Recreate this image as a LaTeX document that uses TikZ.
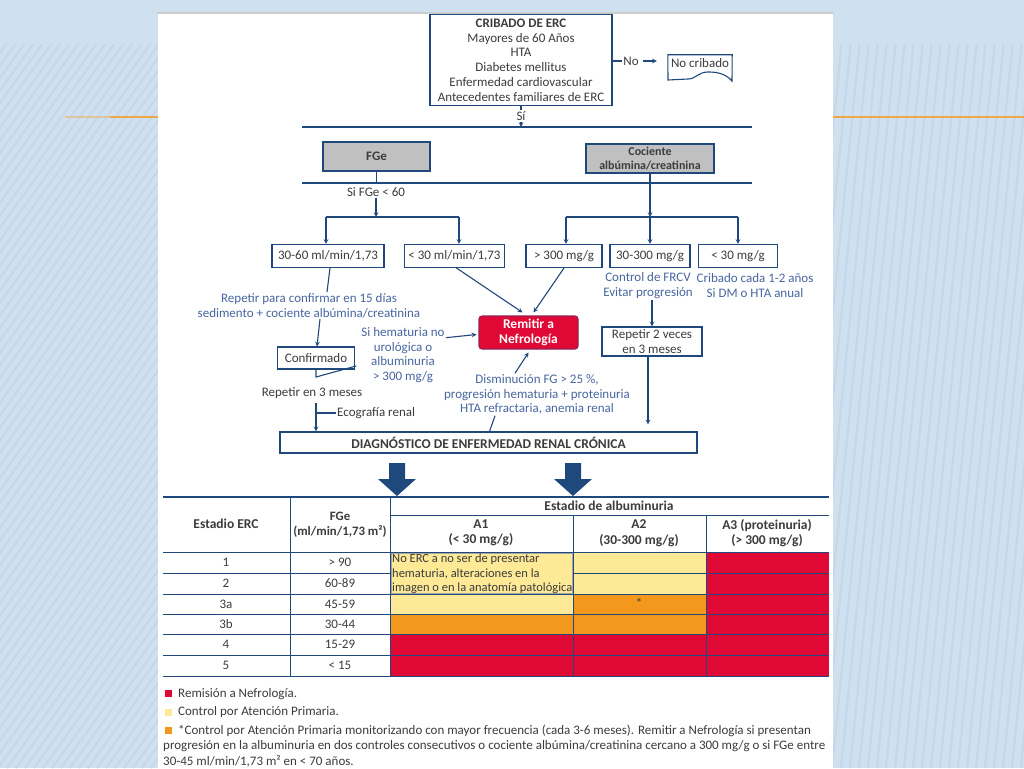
\documentclass[tikz,border=0pt]{standalone}
\usepackage{fontspec}
\setmainfont{Carlito}

\definecolor{navy}{RGB}{31,73,125}
\definecolor{txtblue}{RGB}{72,102,160}
\definecolor{txtdark}{RGB}{60,60,60}
\definecolor{boxgray}{RGB}{192,192,192}
\definecolor{remred}{RGB}{224,8,52}
\definecolor{cyel}{RGB}{253,233,150}
\definecolor{corange}{RGB}{243,152,28}
\definecolor{slide}{RGB}{207,225,240}
\definecolor{stripe}{RGB}{197,215,233}
\definecolor{accent}{RGB}{238,168,70}

\tikzstyle{bx}=[shape=rectangle,
                draw=navy,
                line width=1.1pt,
                fill=white,
                text=txtdark,
                align=center,
                inner sep=1pt]
\tikzstyle{hd}=[bx,
                fill=boxgray,
                font=\bfseries\fontsize{12}{13.5}\selectfont]
\tikzstyle{rem}=[shape=rectangle,
                rounded corners=3pt,
                draw=navy!40!remred,
                line width=1.1pt,
                fill=remred,
                text=white,
                align=center,
                font=\bfseries\fontsize{13.5}{14.5}\selectfont]
\tikzstyle{note}=[text=txtblue, align=center, inner sep=1pt]
\tikzstyle{plain}=[text=txtdark, align=center, inner sep=1pt]
\tikzstyle{ln}=[draw=navy, line width=1.1pt]
\tikzstyle{grid}=[draw=navy, line width=0.8pt]
\tikzstyle{cell}=[text=txtdark, inner sep=0pt]
\tikzstyle{th}=[text=txtdark, align=center, inner sep=0pt,
                font=\bfseries\fontsize{13.5}{15.5}\selectfont]
\tikzstyle{leg}=[text=txtdark, anchor=west, inner sep=0pt]

\begin{document}
\begin{tikzpicture}[>=stealth,x=1pt,y=-1pt,
  every edge/.style={draw=navy,line width=1.1pt},
  font=\fontsize{13}{14.8}\selectfont]

\useasboundingbox (0,0) rectangle (1024,768);

% slide background
\fill[slide] (0,0) rectangle (1024,768);
\begin{scope}
\clip (0,45) rectangle (158,768);
\foreach \i in {0,...,85} \draw[stripe,line width=2pt] (\i*9-560,768) -- ++(553,-768);
\end{scope}
\begin{scope}
\clip (833,45) rectangle (1024,768);
\foreach \i in {0,...,30} \draw[stripe,line width=2pt] (\i*9+760,768) -- ++(77,-768);
\end{scope}
\draw[accent!50!slide,line width=1.5pt] (65,117) -- (110,117);
\draw[accent,line width=1.5pt] (110,117) -- (158,117);
\draw[accent,line width=1.5pt] (833,117) -- (1024,117);
\fill[white] (158,13) rectangle (833,768);
\draw[gray!40,line width=2pt] (157,13) -- (834,13);

% screening
\node[bx, minimum width=182, minimum height=91] (crib) at (521,60)
  {\textbf{CRIBADO DE ERC}\\Mayores de 60 Años\\HTA\\Diabetes mellitus\\Enfermedad cardiovascular\\Antecedentes familiares de ERC};
\node[plain] (no) at (631,61) {No};
\node[plain, minimum width=64, minimum height=16] (nocrib) at (700,63) {No cribado};
\draw[ln] (nocrib.north west) -- (nocrib.north east) -- (732,81)
  .. controls (725,73) and (716,72) .. (708,72)
  .. controls (698,72) and (696,79) .. (688,79) -- (668,80) -- cycle;
\draw[ln] (crib.east |- no.west) -- (no.west);
\path[->] ([xshift=3pt]no.east) edge[shorten >=11pt] (nocrib.west |- no.east);

\node[plain] (si) at (521,116) {Sí};
\coordinate (r1l) at (302,127);
\coordinate (r1r) at (752,127);
\draw[ln] (crib.south) -- (si.north);
\path[->] (si.south) edge (si.south |- r1l);
\draw[ln] (r1l) -- (r1r);

% tests
\node[hd, minimum width=107, minimum height=29, font=\bfseries\fontsize{13}{13.5}\selectfont] (fge) at (376.5,156.5) {FGe};
\node[hd, minimum width=128, minimum height=29] (cac) at (650,158.5) {Cociente\\albúmina/creatinina};
\coordinate (r2l) at (302,183);
\coordinate (r2r) at (752,183);
\draw[ln] (r2l) -- (r2r);
\draw[ln] (fge.south) -- (fge.south |- r2l);

\node[plain] (sifge) at (376,192) {Si FGe < 60};
\coordinate (bl1) at (326,217);
\coordinate (bl2) at (459,217);
\coordinate (br1) at (566,217);
\coordinate (br3) at (738,217);
\path[->] (sifge.south) edge (sifge.south |- bl1);
\path[->] (cac.south) edge (cac.south |- br1);
\draw[ln] (bl1) -- (bl2);
\draw[ln] (br1) -- (br3);

% results
\node[bx, minimum width=112, minimum height=23] (f3060) at (328,256) {30-60 ml/min/1,73};
\node[bx, minimum width=100, minimum height=23] (f30) at (454.5,256) {< 30 ml/min/1,73};
\node[bx, minimum width=76, minimum height=23] (a300) at (564,256) {> 300 mg/g};
\node[bx, minimum width=80, minimum height=23] (a30300) at (650,256) {30-300 mg/g};
\node[bx, minimum width=79, minimum height=23] (a30) at (738,256) {< 30 mg/g};

\path[->] (bl1) edge (bl1 |- f3060.north);
\path[->] (bl2) edge (bl2 |- f30.north);
\path[->] (br1) edge (br1 |- a300.north);
\path[->] (cac.south |- br1) edge (a30300.north);
\path[->] (br3) edge (br3 |- a30.north);

% follow up
\node[note] (frcv) at (648,285.5) {Control de FRCV\\Evitar progresión};
\node[note] (crib12) at (755,285.5) {Cribado cada 1-2 años\\Si DM o HTA anual};
\node[bx, minimum width=100, minimum height=29] (rep2) at (652,341.5) {Repetir 2 veces\\en 3 meses};
\path[->] (frcv.south -| rep2.north) edge (rep2.north);

\node[rem, minimum width=99, minimum height=33] (remit) at (528.5,332.5) {Remitir a\\Nefrología};
\path[->] ([xshift=2pt]f30.south) edge ([xshift=-6pt,yshift=3pt]remit.north);
\path[->] (a300.south) edge ([xshift=5pt,yshift=3pt]remit.north);

\node[note] (rep15) at (309,305.5) {Repetir para confirmar en 15 días\\sedimento + cociente albúmina/creatinina};
\node[bx, minimum width=77, minimum height=22] (conf) at (316,358) {Confirmado};
\draw[ln] ([xshift=2pt]f3060.south) -- ([xshift=18pt]rep15.north);
\path[->] ([xshift=11pt]rep15.south) edge ([xshift=1pt]conf.north);

\node[note] (hemat) at (403,355) {Si hematuria no\\urológica o\\albuminuria\\> 300 mg/g};
\path[->] (hemat.22) edge ([xshift=-2pt,yshift=-2pt]remit.west);
\coordinate (cstem) at (316,377);
\draw[ln] (conf.south) -- (cstem) -- ([xshift=-4pt,yshift=-11pt]hemat.west);

\node[plain] (rep3) at (312,393) {Repetir en 3 meses};
\node[plain, anchor=west] (eco) at (336,413) {Ecografía renal};

\node[note] (dism) at (537,394.5) {Disminución FG > 25 \%,\\progresión hematuria + proteinuria\\HTA refractaria, anemia renal};
\path[->] ([xshift=-22pt]dism.north) edge ([yshift=-3pt]remit.south);

% diagnosis
\node[bx, minimum width=417, minimum height=21, font=\bfseries\fontsize{13.5}{14}\selectfont] (diag) at (488.5,442.5)
  {DIAGNÓSTICO DE ENFERMEDAD RENAL CRÓNICA};
\path[->] ([yshift=-3pt]rep3.south -| cstem) edge (cstem |- diag.north);
\draw[ln] (eco.west -| cstem) -- (eco.west);
\draw[ln] ([xshift=-42pt]dism.south) -- ([xshift=1pt]diag.north);
\path[->] (rep2.south -| 648,0) edge[shorten >=7pt] (648,0 |- diag.north);

\foreach \x in {397,573}
  \fill[navy] (\x-8,463) -- (\x+8,463) -- (\x+8,479) -- (\x+19,479) -- (\x,496)
    -- (\x-19,479) -- (\x-8,479) -- cycle;

% staging table
\fill[cyel] (390,552) rectangle (573,614);
\fill[corange] (390,614) rectangle (573,634);
\fill[cyel] (573,552) rectangle (706,594);
\fill[corange] (573,594) rectangle (706,634);
\fill[remred] (390,634) rectangle (706,676);
\fill[remred] (706,552) rectangle (829,676);

\foreach \y in {552,594,614,634,655,676} \draw[grid] (163,\y) -- (829,\y);
\draw[grid] (163,573) -- (390,573);
\draw[grid] (573,573) -- (829,573);
\draw[grid] (390,515) -- (829,515);
\draw[navy,line width=1.6pt] (163,497) -- (829,497);
\draw[grid] (290,497) -- (290,676);
\draw[grid] (390,497) -- (390,676);
\draw[grid] (573,515) -- (573,676);
\draw[grid] (706,515) -- (706,676);
\draw[gray!70,line width=0.6pt] (391,553) rectangle (572,593);

\node[th] (hstage) at (226,524) {Estadio ERC};
\node[th, font=\bfseries\fontsize{12.8}{15.5}\selectfont] (hfge) at (340,525) {FGe\\(ml/min/1,73 m²)};
\node[th] (halb) at (609,506) {Estadio de albuminuria};
\node[th] (ha1) at (481,533) {A1\\(< 30 mg/g)};
\node[th] (ha2) at (639,533) {A2\\(30-300 mg/g)};
\node[th] (ha3) at (767,533) {A3 (proteinuria)\\(> 300 mg/g)};

\foreach \st/\fg/\y in {1/{> 90}/562.5, 2/60-89/583.5, 3a/45-59/604, 3b/30-44/624, 4/15-29/644.5, 5/{< 15}/665.5} {
  \node[cell] (st\st) at (226,\y) {\st};
  \node[cell] (fg\st) at (340,\y) {\fg};
}
\node[cell, anchor=north west, align=left, font=\fontsize{12.5}{14.3}\selectfont] (noerc) at (392,554)
  {No ERC a no ser de presentar\\hematuria, alteraciones en la\\imagen o en la anatomía patológica};
\node[cell] (star) at (639,603) {*};

% legend
\fill[remred] (165,690) rectangle (172,697);
\fill[cyel] (165,709) rectangle (172,716);
\fill[corange] (165,727) rectangle (172,734);
\node[leg] (leg1) at (178,694) {Remisión a Nefrología.};
\node[leg] (leg2) at (178,712) {Control por Atención Primaria.};
\node[leg] (leg3) at (178,731) {*Control por Atención Primaria monitorizando con mayor frecuencia (cada 3-6 meses). Remitir a Nefrología si presentan};
\node[leg] (leg4) at (163,746) {progresión en la albuminuria en dos controles consecutivos o cociente albúmina/creatinina cercano a 300 mg/g o si FGe entre};
\node[leg] (leg5) at (163,761) {30-45 ml/min/1,73 m² en < 70 años.};

\end{tikzpicture}
\end{document}
